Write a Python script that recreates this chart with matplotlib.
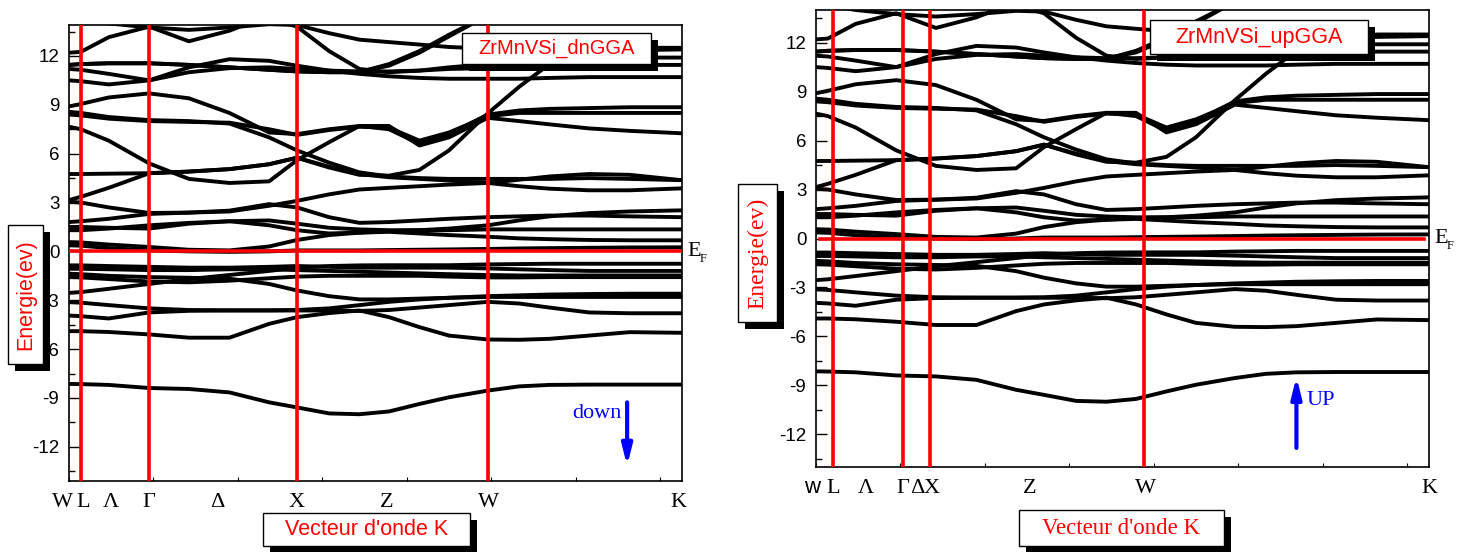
import numpy as np
import matplotlib.pyplot as plt

SANS = ['Liberation Sans', 'DejaVu Sans']
SERIF = ['Liberation Serif', 'DejaVu Serif']

# k-path sample positions (same grid for both panels)
k = [0, 0.14, 0.47, 0.95, 1.42, 1.90, 2.37, 2.70, 3.08, 3.44, 3.79,
     4.15, 4.50, 4.96, 5.33, 5.69, 6.16, 6.64, 7.26]

# band energies (eV)
bands = [
    # valence
    [-8.14, -8.15, -8.2, -8.39, -8.45, -8.66, -9.27, -9.58, -9.95, -10.0, -9.83, -9.37, -8.96, -8.55, -8.29, -8.2, -8.18, -8.18, -8.18],
    [-4.9, -4.9, -4.95, -5.1, -5.3, -5.3, -4.45, -4.04, -3.79, -3.63, -4.04, -4.65, -5.17, -5.41, -5.43, -5.37, -5.17, -4.96, -5.0],
    [-3.94, -3.98, -4.12, -3.75, -3.65, -3.63, -3.63, -3.63, -3.63, -3.66, -3.6, -3.45, -3.3, -3.1, -3.2, -3.45, -3.75, -3.8, -3.8],
    [-3.12, -3.15, -3.3, -3.5, -3.6, -3.62, -3.62, -3.6, -3.5, -3.3, -3.1, -2.95, -2.85, -2.75, -2.7, -2.65, -2.62, -2.6, -2.6],
    [-2.55, -2.5, -2.3, -2.0, -1.7, -1.45, -1.2, -1.0, -0.9, -0.86, -0.85, -0.85, -0.85, -0.8, -0.78, -0.76, -0.76, -0.76, -0.76],
    [-1.37, -1.4, -1.5, -1.58, -1.62, -1.68, -2.0, -2.4, -2.75, -2.95, -2.95, -2.9, -2.85, -2.8, -2.8, -2.8, -2.8, -2.8, -2.8],
    [-1.58, -1.6, -1.7, -1.85, -1.9, -1.8, -1.65, -1.55, -1.5, -1.5, -1.5, -1.5, -1.55, -1.6, -1.6, -1.58, -1.58, -1.58, -1.58],
    [-1.07, -1.07, -1.1, -1.15, -1.15, -1.1, -1.1, -1.15, -1.2, -1.25, -1.3, -1.35, -1.4, -1.45, -1.48, -1.48, -1.48, -1.48, -1.48],
    [-0.86, -0.86, -0.9, -0.95, -1.0, -1.0, -0.95, -0.9, -0.95, -1.0, -1.0, -1.0, -1.0, -1.05, -1.1, -1.15, -1.2, -1.2, -1.2],
    # around and above E_F
    [0.37, 0.35, 0.2, 0.06, 0.0, -0.03, 0.0, 0.06, 0.06, 0.06, 0.08, 0.1, 0.12, 0.15, 0.18, 0.2, 0.22, 0.24, 0.25],
    [0.57, 0.55, 0.42, 0.27, 0.1, 0.06, 0.3, 0.7, 1.0, 1.15, 1.2, 1.1, 1.0, 0.9, 0.8, 0.75, 0.7, 0.68, 0.68],
    [1.3, 1.3, 1.4, 1.6, 1.75, 1.85, 1.9, 1.7, 1.45, 1.35, 1.3, 1.3, 1.3, 1.35, 1.35, 1.35, 1.35, 1.35, 1.35],
    [1.5, 1.5, 1.45, 1.4, 1.7, 1.85, 1.6, 1.3, 1.1, 1.15, 1.25, 1.3, 1.4, 1.6, 1.9, 2.15, 2.35, 2.45, 2.52],
    [3.05, 3.0, 2.7, 2.36, 2.38, 2.5, 2.9, 2.7, 2.1, 1.75, 1.8, 1.9, 2.0, 2.1, 2.15, 2.2, 2.2, 2.15, 2.1],
    [1.8, 1.85, 2.0, 2.3, 2.38, 2.45, 2.8, 3.1, 3.5, 3.8, 3.9, 4.0, 4.1, 4.2, 4.4, 4.6, 4.75, 4.7, 4.37],
    [3.15, 3.35, 3.9, 4.8, 4.9, 5.05, 5.35, 5.75, 5.2, 4.75, 4.55, 4.45, 4.35, 4.2, 4.0, 3.85, 3.75, 3.75, 3.87],
    [4.75, 4.75, 4.77, 4.8, 4.9, 5.05, 5.35, 5.75, 5.15, 4.7, 4.65, 5.0, 6.2, 8.47, 10.1, 11.5, 12.3, 12.5, 12.5],
    [8.57, 8.5, 8.25, 8.06, 8.0, 7.85, 7.0, 6.2, 5.45, 4.85, 4.6, 4.5, 4.45, 4.45, 4.45, 4.45, 4.5, 4.45, 4.37],
    [7.65, 7.5, 6.8, 5.4, 4.45, 4.2, 4.3, 5.6, 6.7, 7.7, 7.7, 6.5, 7.0, 8.2, 8.0, 7.8, 7.55, 7.4, 7.25],
    [8.9, 9.05, 9.45, 9.7, 9.4, 8.5, 7.3, 7.2, 7.5, 7.7, 7.5, 6.6, 7.2, 8.4, 8.65, 8.75, 8.8, 8.85, 8.85],
    [8.4, 8.35, 8.15, 8.0, 7.95, 7.9, 7.5, 7.15, 7.45, 7.65, 7.6, 6.8, 7.3, 8.3, 8.5, 8.5, 8.5, 8.5, 8.5],
    # upper conduction
    [10.5, 10.45, 10.25, 10.5, 11.0, 11.25, 11.3, 11.2, 11.1, 11.05, 11.4, 12.2, 13.2, 14.5, 15.0, 15.0, 15.0, 15.0, 15.0],
    [11.45, 11.5, 11.55, 11.55, 11.45, 11.3, 11.15, 11.05, 11.0, 11.0, 11.5, 12.3, 13.3, 14.5, 15.0, 15.0, 15.0, 15.0, 15.0],
    [11.2, 11.15, 10.9, 10.5, 11.3, 11.8, 11.7, 11.4, 11.1, 10.9, 10.75, 10.65, 10.6, 10.6, 10.6, 10.65, 10.7, 10.7, 10.7],
    [11.45, 11.5, 11.55, 11.55, 11.45, 11.3, 11.15, 11.05, 11.0, 11.0, 11.05, 11.1, 11.2, 11.25, 11.3, 11.35, 11.4, 11.45, 11.45],
    [15.0, 15.0, 15.0, 15.0, 15.0, 14.8, 14.3, 13.8, 12.3, 11.2, 11.0, 11.1, 11.3, 11.5, 11.7, 11.8, 11.85, 11.9, 11.9],
    [14.5, 14.3, 14.0, 13.75, 13.6, 13.75, 13.95, 13.9, 13.4, 13.0, 12.85, 12.7, 12.55, 12.45, 12.35, 12.3, 12.3, 12.35, 12.4],
    [12.2, 12.25, 13.15, 13.8, 12.9, 13.55, 14.5, 15.0, 15.0, 15.0, 15.0, 15.0, 15.0, 15.0, 15.0, 15.0, 15.0, 15.0, 15.0],
]

# high-symmetry points of each panel
sym_dn = [0.142, 0.948, 2.70, 4.96]
lab_dn = [('W', -0.08), ('L', 0.17), ('Λ', 0.50), ('Γ', 0.95), ('Δ', 1.76), ('X', 2.70), ('Z', 3.76), ('W', 4.97), ('K', 7.22)]
sym_up = [0.20, 1.03, 1.35, 3.88]
lab_up = [('w', -0.05), ('L', 0.20), ('Λ', 0.59), ('Γ', 1.03), ('Δ', 1.20), ('X', 1.37), ('Z', 2.53), ('W', 3.90), ('K', 7.27)]

yticks = [12, 9, 6, 3, 0, -3, -6, -9, -12]

fig = plt.figure(figsize=(14.7, 5.52), dpi=100)
W, H = 1470, 552


def framed(x0, y0, x1, y1, s, family, size, rot=0):
    # white box with black drop shadow, pixel coords from top-left
    d = 7
    fig.patches.append(plt.Rectangle(((x0 + d) / W, 1 - (y1 + d) / H), (x1 - x0) / W, (y1 - y0) / H,
                                     transform=fig.transFigure, fc='black', ec='none', zorder=9))
    fig.patches.append(plt.Rectangle((x0 / W, 1 - y1 / H), (x1 - x0) / W, (y1 - y0) / H,
                                     transform=fig.transFigure, fc='white', ec='black', lw=1.0, zorder=10))
    fig.text((x0 + x1) / 2 / W, 1 - (y0 + y1) / 2 / H, s, color='red', family=family, fontsize=size,
             rotation=rot, ha='center', va='center', zorder=11)


def panel(rect, ylim, sym, labs, ef_span):
    ax = fig.add_axes(rect)
    for e in bands:
        ax.plot(k, e, color='black', lw=2.8, solid_capstyle='round', solid_joinstyle='round', zorder=2)
    for s in sym:
        ax.axvline(s, color='red', lw=2.6, zorder=3)
    ax.plot(ef_span, [0, 0], color='red', lw=2.6, zorder=3)
    ax.set_xlim(0, 7.26)
    ax.set_ylim(*ylim)
    ax.set_yticks(yticks)
    ax.set_yticklabels([str(v) for v in yticks], family=SANS, fontsize=13.5)
    ax.set_yticks(np.arange(-13.5, 14, 3), minor=True)
    ax.set_xticks(range(8))
    ax.set_xticklabels([])
    ax.tick_params(axis='y', which='major', direction='in', length=8, width=1.0, pad=7)
    ax.tick_params(axis='y', which='minor', direction='in', length=4, width=1.0)
    ax.tick_params(axis='x', direction='in', length=3, width=0.8)
    for sp in ax.spines.values():
        sp.set_linewidth(1.2)
    for s, x in labs:
        fam = SANS if s == 'w' else SERIF
        ax.text(x, -0.056, s, transform=ax.get_xaxis_transform(), ha='center', va='baseline',
                family=fam, fontsize=16)
    ax.text(7.32, 0, 'E', family=SERIF, fontsize=16, ha='left', va='center', clip_on=False)
    ax.text(7.47, -0.45, 'F', family=SERIF, fontsize=9, ha='left', va='center', clip_on=False)
    return ax


axl = panel([69 / W, 1 - 481 / H, 613 / W, 456 / H], (-14.1, 13.9), sym_dn, lab_dn, [0, 7.26])
axr = panel([816 / W, 1 - 467 / H, 613 / W, 457 / H], (-14.0, 14.0), sym_up, lab_up, [0.05, 7.2])

# title boxes
framed(462, 33, 651, 64, 'ZrMnVSi_dnGGA', SANS, 14.5)
framed(1150, 20, 1368, 54, 'ZrMnVSi_upGGA', SANS, 15.5)

# y-axis label boxes
framed(8, 225, 43, 364, 'Energie(ev)', SANS, 15.5, rot=90)
framed(738, 184, 777, 322, 'Energie(ev)', SERIF, 17, rot=90)

# x-axis label boxes
framed(263, 513, 470, 546, "Vecteur d'onde K", SANS, 15.5)
framed(1019, 510, 1224, 546, "Vecteur d'onde K", SERIF, 16.5)

# spin arrows
axl.annotate('', xy=(6.61, -13.35), xytext=(6.61, -9.1),
             arrowprops=dict(arrowstyle='-|>,head_width=0.3,head_length=1.2', color='blue', lw=3))
axl.text(6.55, -9.95, 'down', color='blue', family=SERIF, fontsize=16, ha='right', va='center')
axr.annotate('', xy=(5.69, -8.3), xytext=(5.69, -13.0),
             arrowprops=dict(arrowstyle='-|>,head_width=0.3,head_length=1.2', color='blue', lw=3))
axr.text(5.81, -9.9, 'UP', color='blue', family=SERIF, fontsize=16, ha='left', va='center')

fig.savefig('out.png', dpi=100)
